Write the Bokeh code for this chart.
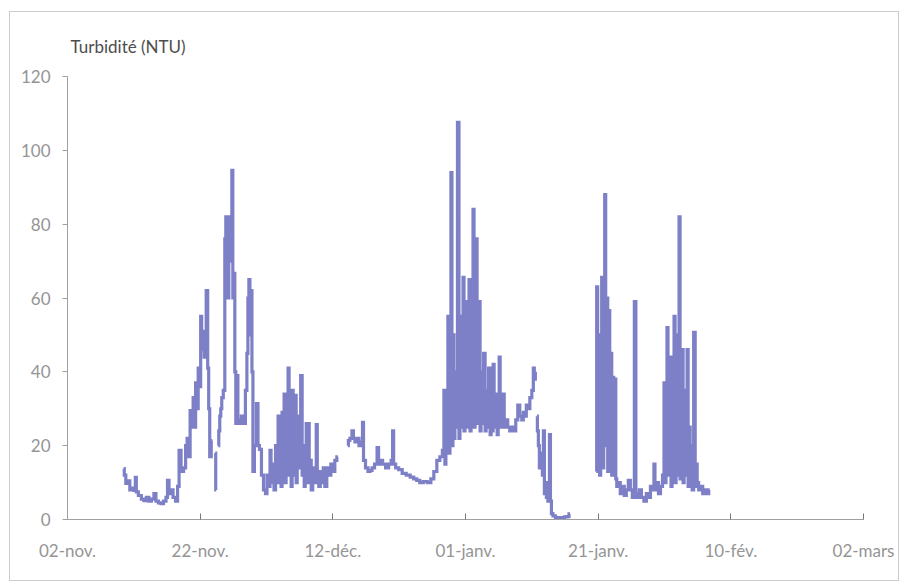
import math
from bokeh.plotting import figure
from bokeh.models import FixedTicker, ColumnDataSource, Range1d
from bokeh.embed import file_html
from bokeh.resources import INLINE

# x axis: days since 02-nov.
tick_days = [0, 20, 40, 60, 80, 100, 120]
tick_labels = ["02-nov.", "22-nov.", "12-déc.", "01-janv.", "21-janv.", "10-fév.", "02-mars"]
y_ticks = [0, 20, 40, 60, 80, 100, 120]

# --- segments of the turbidity record (day offset, NTU) ---
seg_a1_day = [8.48, 8.64, 8.94, 9.24, 9.55, 9.85, 10.15, 10.30, 10.45, 10.91, 11.36, 11.67, 12.12, 12.42,
              12.88, 13.18, 13.48, 13.94, 14.24, 14.70, 15.00, 15.15, 15.45, 15.76, 16.06, 16.52, 16.67,
              16.97, 17.27, 17.73, 17.88, 18.18, 18.33, 18.64, 18.79, 19.09, 19.24, 19.39, 19.55, 19.85,
              20.00, 20.15, 20.30, 20.45, 20.76, 21.06, 21.21, 21.36, 21.52, 21.82]
seg_a1_val = [13.8, 12, 9.8, 10.5, 8, 8.5, 7.9, 11.4, 7.5, 6.5, 5.5, 5.1, 6, 5,
              5.5, 7, 5, 4.5, 4.3, 5, 6, 10.6, 7, 8, 6, 5, 9,
              18.7, 13, 14, 20, 22, 17, 29.5, 25, 33, 25, 37, 30, 41,
              36, 55, 46, 51, 44, 62, 41, 30, 17, 21.4]

seg_a2_day = [22.27, 22.42]
seg_a2_val = [18, 8]

seg_a3_day = [22.73, 22.88, 23.03, 23.18, 23.33, 23.64, 23.79, 23.94, 24.09, 24.24, 24.39, 24.70, 24.85,
              25.00, 25.15, 25.30, 25.45, 25.61, 25.76, 26.06, 26.36, 26.67, 26.97, 27.12, 27.27, 27.42,
              27.58, 27.73, 27.88, 28.03, 28.33, 28.64, 28.79, 29.09, 29.39, 29.70, 30.00, 30.15, 30.45,
              30.61, 30.76, 31.06, 31.21, 31.52, 31.67, 31.82, 31.97, 32.12, 32.27, 32.42, 32.58, 32.73,
              32.88, 33.03, 33.18, 33.33, 33.48, 33.64, 33.79, 33.94, 34.09, 34.24, 34.39, 34.55, 34.70,
              34.85, 35.00, 35.30, 35.45, 35.61, 35.76, 35.91, 36.06, 36.21, 36.36, 36.52, 36.67, 36.82,
              37.12, 37.42, 37.58, 37.73, 38.03, 38.18, 38.48, 38.64, 38.94, 39.24, 39.55, 39.85, 40.15,
              40.45, 40.76]
seg_a3_val = [20, 24, 28, 30, 33, 35, 76, 82, 80, 60, 82, 70, 94.6,
              60, 66.7, 40, 26, 39, 27, 26, 28, 26, 35, 45, 60, 65,
              50, 62, 40, 13, 20, 31.4, 20, 19, 12, 8, 7, 12, 9,
              18.7, 10, 15, 8, 20, 10, 28, 12, 22, 9, 29, 14, 34,
              10, 26, 12, 41, 15, 30, 9, 35, 12, 25, 33.6, 10, 28,
              14, 22, 39, 12, 20, 9, 17, 26, 10, 26, 12, 16, 8,
              14, 10, 25.7, 12, 9, 13, 10, 14, 9, 14, 12, 15, 13,
              16, 17]

seg_b1_day = [42.27, 42.42, 42.73, 43.03, 43.18, 43.48, 43.79, 44.09, 44.39, 44.55, 44.70, 45.15, 45.45,
              45.76, 46.06, 46.52, 46.82, 46.97, 47.27, 47.73, 48.18, 48.64, 48.94, 49.09, 49.24, 49.70,
              50.15, 50.76, 51.36, 51.97, 52.42, 52.88, 53.33, 53.94, 54.55, 55.00, 55.45, 55.91, 56.36,
              56.67, 56.82, 56.97, 57.12, 57.27, 57.42, 57.58, 57.73, 57.88, 58.03, 58.18, 58.33, 58.48,
              58.64, 58.94, 59.09, 59.24, 59.39, 59.55, 59.70, 59.85, 60.00, 60.15, 60.30, 60.45, 60.61,
              60.76, 60.91, 61.06, 61.21, 61.36, 61.52, 61.67, 61.82, 61.97, 62.12, 62.27, 62.42, 62.58,
              62.88, 63.03, 63.18, 63.33, 63.64, 63.79, 63.94, 64.09, 64.24, 64.39, 64.55, 64.70, 64.85,
              65.00, 65.15, 65.30, 65.45, 65.76, 65.91, 66.21, 66.52, 66.82, 67.12, 67.42, 67.73, 68.03,
              68.33, 68.64, 68.79, 69.09, 69.24, 69.55, 69.85, 70.15, 70.30, 70.45, 70.61]
seg_b1_val = [20, 21.4, 22, 24, 22, 21, 22, 20, 21, 26.3, 16, 14, 13,
              13.3, 14, 15, 19.5, 15, 16, 15, 14, 15, 16, 24, 15, 14,
              13.5, 12.5, 12, 11.5, 11, 10.6, 10, 10.3, 10, 11, 13, 16, 17,
              18.7, 35, 15, 30, 20, 55, 18, 45, 94, 20, 50, 22, 40,
              25, 107.6, 22, 45, 25, 55, 65.6, 24, 40, 59, 25, 45, 65,
              24, 50, 28, 84, 25, 50, 76, 26, 45, 59, 24, 40, 26,
              45, 24, 35, 25, 41, 23, 35, 24, 42, 25, 30, 34, 23,
              30, 44, 25, 30, 34, 25, 27, 25, 24, 25, 24, 27, 31,
              28, 27, 29, 28, 31, 30, 33, 35, 41, 38, 40]

seg_b2_day = [70.76, 70.91, 71.06, 71.21, 71.36, 71.52, 71.67, 71.82, 71.97, 72.12, 72.27, 72.58, 72.73,
              72.88, 73.03, 73.33, 73.79, 74.24, 74.70, 75.15, 75.45, 75.76]
seg_b2_val = [28, 24, 20, 14, 18, 16, 12, 24, 7, 10, 6, 5, 23,
              5, 1.6, 1, 0.5, 0.3, 0.5, 0.7, 0.8, 1.5]

seg_c_day = [79.70, 79.85, 80.00, 80.15, 80.30, 80.45, 80.61, 80.76, 80.91, 81.06, 81.21, 81.36, 81.52,
             81.67, 81.82, 81.97, 82.12, 82.27, 82.42, 82.58, 82.73, 82.88, 83.18, 83.48, 83.79, 84.09,
             84.39, 84.70, 85.00, 85.30, 85.61, 85.76, 86.06, 86.36, 86.67, 87.12, 87.42, 87.73, 88.03,
             88.33, 88.48, 88.64, 88.94, 89.24, 89.55, 89.85, 90.00, 90.15, 90.30, 90.45, 90.61, 90.76,
             90.91, 91.06, 91.21, 91.36, 91.52, 91.67, 91.82, 91.97, 92.12, 92.27, 92.42, 92.58, 92.73,
             92.88, 93.03, 93.18, 93.33, 93.48, 93.64, 93.79, 93.94, 94.09, 94.24, 94.55, 94.70, 94.85,
             95.00, 95.30, 95.61, 95.91, 96.21, 96.52, 96.82]
seg_c_val = [13, 63, 15, 45, 12, 50, 65.6, 14, 40, 88, 20, 60, 13,
             56.6, 15, 45, 12, 38.5, 14, 38, 11, 9, 10, 7, 9, 6.5,
             8, 10.6, 8, 6, 59, 7, 6, 8, 6, 5, 7, 6, 9,
             8, 15, 8, 10, 7, 9, 12, 37, 10, 30, 52, 12, 40,
             44, 9, 35, 12, 55, 10, 45, 12, 50, 82, 11, 40, 46,
             10, 35, 12, 30, 46, 9, 25, 12.5, 20, 8, 50.7, 9, 15,
             10, 8, 9, 7, 8, 7, 8]

segments = [(seg_a1_day, seg_a1_val), (seg_a2_day, seg_a2_val), (seg_a3_day, seg_a3_val),
            (seg_b1_day, seg_b1_val), (seg_b2_day, seg_b2_val), (seg_c_day, seg_c_val)]

FONT = "Lato"
LABEL_COLOR = "#959595"
AXIS_COLOR = "#a0a0a0"
LINE_COLOR = "#7d80c7"

p = figure(width=890, height=570, output_backend="svg", toolbar_location=None,
           x_range=Range1d(0, 120), y_range=Range1d(0, 120),
           min_border_left=57, min_border_right=37, min_border_top=64, min_border_bottom=63)
p.styles = {"border": "1px solid #cccccc", "margin-left": "9px", "margin-top": "11px"}

for d, v in segments:
    src = ColumnDataSource(dict(day=d, ntu=v))
    p.step("day", "ntu", source=src, mode="center", line_color=LINE_COLOR,
           line_width=3.2, line_join="miter")

p.title.text = "Turbidité (NTU)"
p.title.text_font = FONT
p.title.text_font_size = "17px"
p.title.text_font_style = "normal"
p.title.text_color = "#4d4d4d"
p.title.align = "left"
p.title.offset = 3
p.title.standoff = 40

p.xgrid.grid_line_color = None
p.ygrid.grid_line_color = None
p.outline_line_color = None
p.background_fill_color = "white"
p.border_fill_color = "white"

xa = p.xaxis[0]
xa.ticker = FixedTicker(ticks=tick_days)
xa.major_label_overrides = {d: lab for d, lab in zip(tick_days, tick_labels)}
xa.minor_tick_line_color = None
xa.major_tick_in = 6
xa.major_tick_out = 0
xa.major_label_standoff = 20
xa.axis_line_color = AXIS_COLOR
xa.major_tick_line_color = "#777777"
xa.major_label_text_font = FONT
xa.major_label_text_font_size = "17px"
xa.major_label_text_color = LABEL_COLOR

ya = p.yaxis[0]
ya.ticker = FixedTicker(ticks=y_ticks)
ya.minor_tick_line_color = None
ya.major_tick_in = 0
ya.major_tick_out = 5
ya.major_label_standoff = 12
ya.axis_line_color = AXIS_COLOR
ya.major_tick_line_color = AXIS_COLOR
ya.major_label_text_font = FONT
ya.major_label_text_font_size = "17px"
ya.major_label_text_color = LABEL_COLOR

open("out.html", "w").write(file_html(p, INLINE))
